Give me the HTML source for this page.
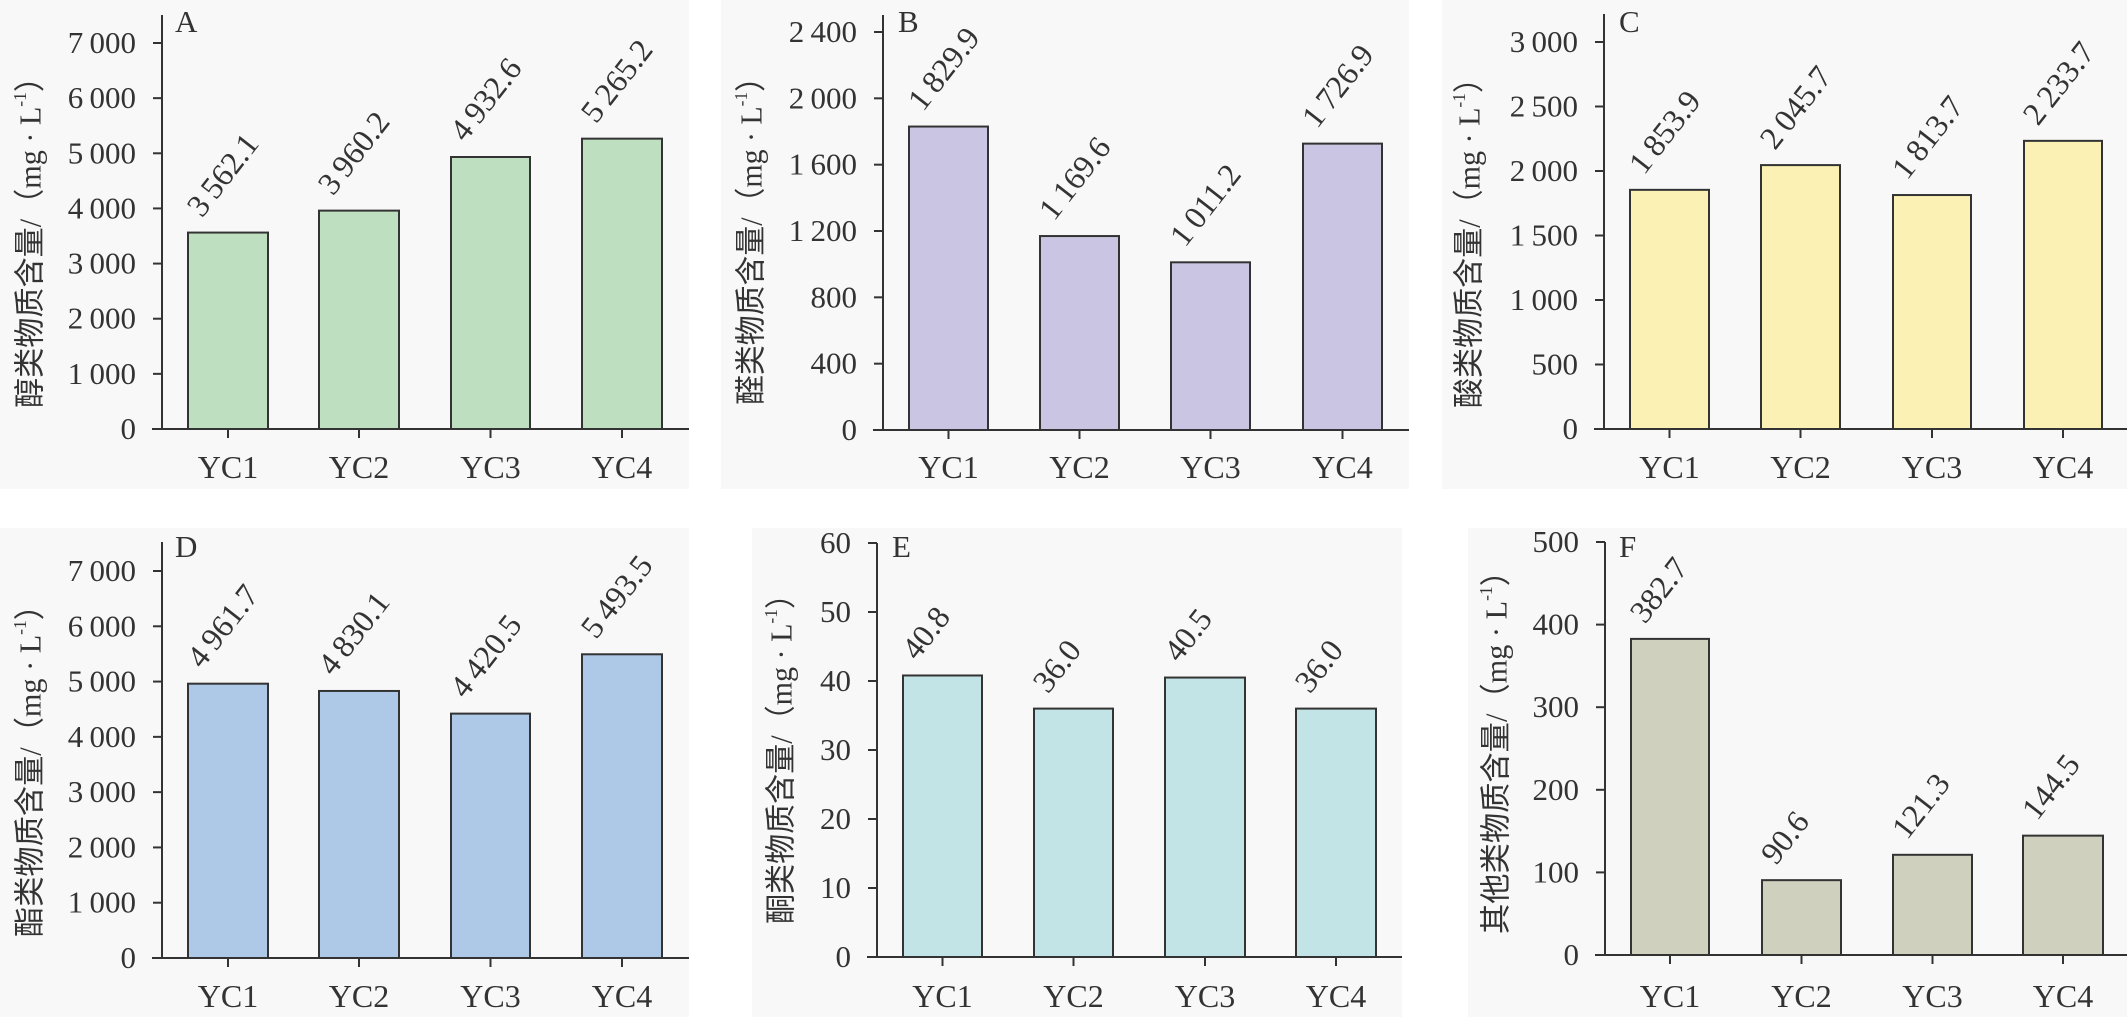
<!DOCTYPE html>
<html><head><meta charset="utf-8">
<style>
html,body{margin:0;padding:0;background:#fff;}
svg{display:block;}
text{font-family:"Liberation Serif","Noto Serif CJK SC",serif;fill:#333;}
.cjk{font-family:"Liberation Serif","Noto Sans CJK SC",sans-serif;}
</style></head>
<body>
<svg id="s" xmlns="http://www.w3.org/2000/svg" width="2127" height="1017" viewBox="0 0 2127 1017"></svg>
<script>
const S=document.getElementById('s');
const NS='http://www.w3.org/2000/svg';
function el(t,a,txt){const e=document.createElementNS(NS,t);for(const k in a)e.setAttribute(k,a[k]);if(txt!==undefined)e.textContent=txt;S.appendChild(e);return e;}
function fmt(v,dec){let s=dec?v.toFixed(1):String(v);let [i,f]=s.split('.');if(i.length>=4)i=i.slice(0,i.length-3)+'\u2009'+i.slice(-3);return f!==undefined?i+'.'+f:i;}
const panels=[
 {L:'A',bg:[0,0,689,489],ax:162,top:15,y0:429,ymax:7000,yTop:43,step:1000,bars:[[188,268],[319,399],[451,530],[582,662]],right:689,vals:[3562.1,3960.2,4932.6,5265.2],col:'#bfe0c0',lab:'醇类物质含量',lx:30,ly0:408,ly1:62,xl:478,letter:[175,32]},
 {L:'B',bg:[721,0,1409,489],ax:883,top:15,y0:430,ymax:2400,yTop:32,step:400,bars:[[909,988],[1040,1119],[1171,1250],[1303,1382]],right:1409,vals:[1829.9,1169.6,1011.2,1726.9],col:'#c9c5e2',lab:'醛类物质含量',lx:751,ly0:405,ly1:62,xl:478,letter:[898,32]},
 {L:'C',bg:[1442,0,2127,489],ax:1604,top:14,y0:429,ymax:3000,yTop:42,step:500,bars:[[1630,1709],[1761,1840],[1893,1971],[2024,2102]],right:2127,vals:[1853.9,2045.7,1813.7,2233.7],col:'#fbf1b4',lab:'酸类物质含量',lx:1469,ly0:408,ly1:63,xl:478,letter:[1619,32]},
 {L:'D',bg:[0,528,689,1017],ax:162,top:542,y0:958,ymax:7000,yTop:571,step:1000,bars:[[188,268],[319,399],[451,530],[582,662]],right:689,vals:[4961.7,4830.1,4420.5,5493.5],col:'#aec8e8',lab:'酯类物质含量',lx:30,ly0:937,ly1:590,xl:1007,letter:[175,557]},
 {L:'E',bg:[752,528,1402,1017],ax:877,top:543,y0:957,ymax:60,yTop:543,step:10,bars:[[903,982],[1034,1113],[1165,1245],[1296,1376]],right:1402,vals:[40.8,36.0,40.5,36.0],col:'#c2e4e6',lab:'酮类物质含量',lx:781,ly0:924,ly1:579,xl:1007,letter:[892,557]},
 {L:'F',bg:[1468,528,2127,1017],ax:1605,top:542,y0:955,ymax:500,yTop:542,step:100,bars:[[1631,1709],[1762,1841],[1893,1972],[2023,2103]],right:2127,vals:[382.7,90.6,121.3,144.5],col:'#cfd0bd',lab:'其他类物质含量',lx:1496,ly0:934,ly1:556,xl:1007,letter:[1619,557]}
];
panels.forEach(p=>{
 el('rect',{x:p.bg[0],y:p.bg[1],width:p.bg[2]-p.bg[0],height:p.bg[3]-p.bg[1],fill:'#f8f8f8'});
 const sc=(p.y0-p.yTop)/p.ymax;
 p.bars.forEach((b,i)=>{
  const v=p.vals[i];const ty=p.y0-v*sc;
  el('rect',{x:b[0],y:ty,width:b[1]-b[0],height:p.y0-ty,fill:p.col,stroke:'#333','stroke-width':2});
  const ax=b[0]+14,ay=ty-14;
  el('text',{x:ax,y:ay,'font-size':32,transform:`rotate(-52 ${ax} ${ay})`},fmt(v,true));
  const cx=(b[0]+b[1])/2;
  el('line',{x1:cx,y1:p.y0,x2:cx,y2:p.y0+9,stroke:'#333','stroke-width':2});
  el('text',{x:cx,y:p.xl,'font-size':32,'text-anchor':'middle'},'YC'+(i+1));
 });
 el('line',{x1:p.ax,y1:p.top,x2:p.ax,y2:p.y0+1,stroke:'#333','stroke-width':2});
 el('line',{x1:p.ax-10,y1:p.y0,x2:p.right,y2:p.y0,stroke:'#333','stroke-width':2});
 for(let v=0;v<=p.ymax+1e-9;v+=p.step){
  const y=p.y0-v*sc;
  el('line',{x1:p.ax-9,y1:y,x2:p.ax,y2:y,stroke:'#333','stroke-width':2});
  el('text',{x:p.ax-26,y:y+10,'font-size':31,'text-anchor':'end'},fmt(v,false));
 }
 el('text',{x:p.letter[0],y:p.letter[1],'font-size':31},p.L);
 const len=p.ly0-p.ly1, cy=(p.ly0+p.ly1)/2;
 const t=el('text',{x:p.lx,y:cy,'font-size':31,'text-anchor':'middle','dominant-baseline':'central',class:'cjk',transform:`rotate(-90 ${p.lx} ${cy})`,textLength:len,lengthAdjust:'spacingAndGlyphs'});
 t.textContent=p.lab+'/（mg · L';
 const sup=document.createElementNS(NS,'tspan');sup.setAttribute('dy','-10');sup.setAttribute('font-size','18');sup.textContent='-1';t.appendChild(sup);
 const cl=document.createElementNS(NS,'tspan');cl.setAttribute('dy','10');cl.textContent='）';t.appendChild(cl);
});
</script>
</body></html>
